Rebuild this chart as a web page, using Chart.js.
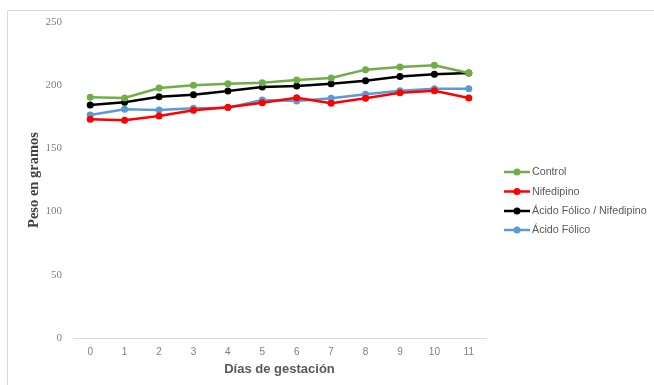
<!DOCTYPE html>
<html>
<head>
<meta charset="utf-8">
<script src="https://cdn.jsdelivr.net/npm/chart.js@4"></script>
<style>
html,body{margin:0;padding:0;background:#fff;}
#wrap{position:relative;width:654px;height:385px;}
</style>
</head>
<body>
<div id="wrap"><canvas id="c" width="654" height="385"></canvas></div>
<script>
const days = ['0','1','2','3','4','5','6','7','8','9','10','11'];
const control = [190.4, 189.9, 197.8, 199.9, 201.2, 202.0, 204.1, 205.7, 212.3, 214.4, 215.7, 209.6];
const nifedipino = [173.0, 172.2, 175.6, 180.1, 182.5, 186.2, 190.1, 185.7, 189.6, 194.1, 195.6, 189.9];
const acidoNifedipino = [184.3, 186.5, 190.9, 192.5, 195.4, 198.6, 199.4, 201.2, 203.6, 206.8, 208.6, 209.6];
const acidoFolico = [176.4, 180.9, 180.4, 181.7, 182.2, 188.3, 187.5, 189.6, 192.8, 195.6, 197.2, 197.2];
const seriesNames = ['Control', 'Nifedipino', 'Ácido Fólico / Nifedipino', 'Ácido Fólico'];
const seriesColors = ['#70ad47', '#ff0000', '#000000', '#5b9bd5'];
const yTicks = [0, 50, 100, 150, 200, 250];

const seriesValues = [control, nifedipino, acidoNifedipino, acidoFolico];
const datasets = seriesValues.map((vals, i) => ({
  label: seriesNames[i],
  data: vals,
  borderColor: seriesColors[i],
  backgroundColor: seriesColors[i],
  borderWidth: 2.5,
  pointRadius: 3.5,
  pointBorderWidth: 0,
  pointHoverRadius: 3.5,
  tension: 0,
  fill: false
}));

const frameLegend = {
  id: 'frameLegend',
  beforeDraw(chart) {
    const ctx = chart.ctx;
    ctx.save();
    ctx.strokeStyle = '#d9d9d9';
    ctx.lineWidth = 1;
    ctx.beginPath();
    ctx.moveTo(7.5, 385);
    ctx.lineTo(7.5, 10.5);
    ctx.lineTo(654, 10.5);
    ctx.stroke();
    ctx.restore();
  },
  afterDraw(chart) {
    const ctx = chart.ctx;
    ctx.save();
    const x0 = 504, x1 = 530;
    const ys = [172, 191.5, 211, 230];
    chart.data.datasets.forEach((ds, i) => {
      const y = ys[i];
      ctx.strokeStyle = ds.borderColor;
      ctx.lineWidth = 2.5;
      ctx.beginPath();
      ctx.moveTo(x0, y);
      ctx.lineTo(x1, y);
      ctx.stroke();
      ctx.fillStyle = ds.borderColor;
      ctx.beginPath();
      ctx.arc((x0 + x1) / 2, y, 3.5, 0, Math.PI * 2);
      ctx.fill();
      ctx.fillStyle = '#595959';
      ctx.font = '10.7px "Liberation Sans", Arial, sans-serif';
      ctx.textBaseline = 'middle';
      ctx.textAlign = 'left';
      ctx.fillText(ds.label, x1 + 2, y + 0.5);
    });
    ctx.restore();
  }
};

new Chart(document.getElementById('c'), {
  type: 'line',
  data: { labels: days, datasets },
  options: {
    responsive: false,
    animation: false,
    devicePixelRatio: 1,
    layout: { padding: { left: 0, right: 168, top: 22, bottom: 0 } },
    plugins: { legend: { display: false }, tooltip: { enabled: false } },
    scales: {
      x: {
        offset: true,
        grid: { display: false, drawTicks: false },
        border: { display: true, color: '#d9d9d9', width: 1 },
        ticks: { color: '#7f7f7f', padding: 8, font: { family: '"Liberation Sans", Arial, sans-serif', size: 10 }, maxRotation: 0 },
        title: { display: true, text: 'Días de gestación', color: '#595959',
          font: { family: '"Liberation Sans", Arial, sans-serif', size: 13, weight: 'bold' },
          padding: { top: 0, bottom: 8 } },
        afterFit(s) { s.height = 47; }
      },
      y: {
        min: 0, max: 250,
        afterBuildTicks(s) { s.ticks = yTicks.map(v => ({ value: v })); },
        grid: { display: false, drawTicks: false },
        border: { display: false },
        ticks: { color: '#7f7f7f', padding: 11, font: { family: '"Liberation Serif", "Times New Roman", serif', size: 11 } },
        title: { display: true, text: 'Peso en gramos', color: '#404040',
          font: { family: '"Liberation Serif", "Times New Roman", serif', size: 14.5, weight: 'bold' },
          padding: { top: 26, bottom: 0 } },
        afterFit(s) { s.width = 73; }
      }
    }
  },
  plugins: [frameLegend]
});
</script>
</body>
</html>
